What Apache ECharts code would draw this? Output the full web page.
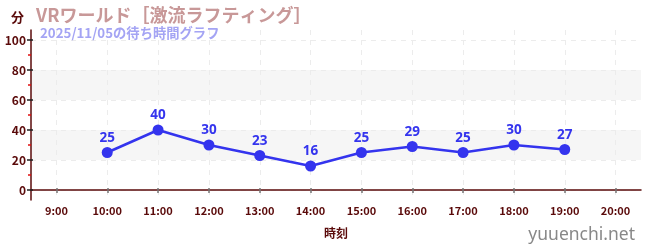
<!DOCTYPE html>
<html><head><meta charset="utf-8">
<script src="https://cdn.jsdelivr.net/npm/echarts@6/dist/echarts.min.js"></script>
<style>html,body{margin:0;padding:0;background:#fff}#c{width:650px;height:250px}</style>
</head><body><div id="c"></div>
<script>
const titleText = 'VRワールド［激流ラフティング］';
const subText = '2025/11/05の待ち時間グラフ';
const hours = [10, 11, 12, 13, 14, 15, 16, 17, 18, 19];
const waits = [25, 40, 30, 23, 16, 25, 29, 25, 30, 27];
const xTicks = [9, 10, 11, 12, 13, 14, 15, 16, 17, 18, 19, 20];
const yTicks = [0, 20, 40, 60, 80, 100];
const yMinor = [10, 30, 50, 70, 90];

const font = '"Noto Sans CJK JP", "Noto Sans", sans-serif';
const axisColor = '#5a0a0a';
const yMin = -20 / 3, yMax = 100 + 20 / 3;
const xMin = 8.5, xMax = 20.5;

const chart = echarts.init(document.getElementById('c'));
chart.setOption({
  animation: false,
  textStyle: { fontFamily: font },
  title: [
    { text: titleText, left: 31, top: 1, textStyle: { fontSize: 18, fontWeight: 'bold', color: '#c89898', fontFamily: font } },
    { text: subText, left: 35, top: 21, textStyle: { fontSize: 13.3, fontWeight: 'bold', color: '#a4a4f4', fontFamily: font } }
  ],
  graphic: [
    { type: 'text', right: 15, bottom: 6, style: { text: 'yuuenchi.net', fill: '#888888', fontSize: 17.5, fontFamily: '"Noto Sans", sans-serif' } }
  ],
  grid: { left: 31, right: 9, top: 30, bottom: 50 },
  xAxis: [
    {
      type: 'value', min: xMin, max: xMax, position: 'bottom',
      name: '時刻', nameLocation: 'middle', nameGap: 27,
      nameTextStyle: { color: axisColor, fontSize: 12, fontWeight: 'bold', fontFamily: font },
      axisLine: { show: true, lineStyle: { color: axisColor, width: 1.5 } },
      axisTick: { show: true, customValues: xTicks, length: 3, lineStyle: { color: '#777', width: 1.5 } },
      axisLabel: { customValues: xTicks, formatter: v => v + ':00', color: axisColor, fontSize: 11, fontWeight: 'bold', margin: 5 },
      splitLine: { show: true, lineStyle: { color: '#ececec', type: [5, 5] } }
    },
    {
      type: 'value', min: xMin, max: xMax, position: 'bottom',
      axisLine: { show: false },
      axisTick: { show: true, inside: true, customValues: xTicks, length: 2, lineStyle: { color: '#777', width: 1.5 } },
      axisLabel: { show: false, customValues: xTicks },
      splitLine: { show: false }
    }
  ],
  yAxis: [
    {
      type: 'value', min: yMin, max: yMax, position: 'left',
      name: '分', nameLocation: 'end', nameGap: 6,
      nameTextStyle: { color: axisColor, fontSize: 13, fontWeight: 'bold', align: 'right', padding: [0, 7, 0, 0], fontFamily: font },
      axisLine: { show: true, lineStyle: { color: axisColor, width: 1.5 } },
      axisTick: { show: true, customValues: yTicks, length: 4, lineStyle: { color: '#222', width: 1.5 } },
      axisLabel: { customValues: yTicks, color: axisColor, fontSize: 12, fontWeight: 'bold', margin: 5 },
      splitLine: { show: true, lineStyle: { color: '#ececec', type: [5, 5] } },
      splitArea: { show: true, areaStyle: { color: ['rgba(255,255,255,0)', '#f6f6f6'] } }
    },
    {
      type: 'value', min: yMin, max: yMax, position: 'left',
      axisLine: { show: false },
      axisTick: { show: true, customValues: yMinor, length: 3, lineStyle: { color: '#e01010', width: 1.5 } },
      axisLabel: { show: false, customValues: yMinor },
      splitLine: { show: false }
    },
    {
      type: 'value', min: yMin, max: yMax, position: 'left',
      axisLine: { show: false },
      axisTick: { show: true, inside: true, customValues: yTicks, length: 2, lineStyle: { color: '#222', width: 1.5 } },
      axisLabel: { show: false, customValues: yTicks },
      splitLine: { show: false }
    }
  ],
  series: [{
    type: 'line',
    data: hours.map((h, i) => [h, waits[i]]),
    symbol: 'circle', symbolSize: 11,
    itemStyle: { color: '#3434ee' },
    lineStyle: { color: '#3434ee', width: 2.5 },
    label: { show: true, position: 'top', distance: 2, color: '#3434ee', fontSize: 13.5, fontWeight: 'bold', fontFamily: '"Noto Sans", sans-serif' }
  }]
});
</script></body></html>
